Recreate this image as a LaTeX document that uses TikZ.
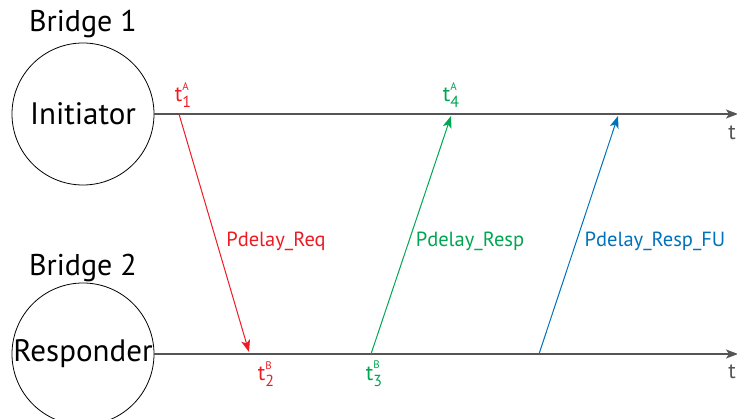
\documentclass[tikz,border=0pt]{standalone}
\usepackage{fontspec}
\setmainfont{PT Sans}
\usepackage{xcolor}
\usetikzlibrary{arrows.meta,positioning}

\definecolor{reqred}{RGB}{237,28,36}
\definecolor{respgreen}{RGB}{0,166,81}
\definecolor{fublue}{RGB}{0,114,188}
\definecolor{axisgray}{RGB}{85,85,85}

\newcommand{\tstamp}[2]{t\makebox[0pt][l]{\raisebox{1.05ex}{\fontsize{11}{11}\selectfont #2}}\raisebox{-0.55ex}{\fontsize{16}{16}\selectfont #1}}

\begin{document}
\begin{tikzpicture}[x=1pt,y=-1pt,
  bridge/.style={draw,circle,line width=.8pt,minimum size=142pt,inner sep=0pt,
    font=\fontsize{31}{31}\selectfont},
  title/.style={font=\fontsize{30}{30}\selectfont},
  axis/.style={-{Stealth[length=12pt,width=9pt,inset=3pt]},line width=1.2pt,color=axisgray},
  msg/.style={-{Stealth[length=12pt,width=9pt,inset=3pt]},line width=1pt},
  stamp/.style={font=\fontsize{22}{22}\selectfont},
  tag/.style={font=\fontsize{20.5}{20.5}\selectfont}]
\useasboundingbox (0,0) rectangle (737,419);
\node[bridge] (initiator) at (83,114) {Initiator};
\node[bridge] (responder) at (83,354) {Responder};
\node[title] (bridgeA) at (83,24) {Bridge 1};
\node[title] (bridgeB) at (83,268) {Bridge 2};
% time lines
\coordinate (endA) at (738,114);
\coordinate (endB) at (738,354);
\draw[axis] (initiator.east)--(endA);
\draw[axis] (responder.east)--(endB);
\node[stamp,anchor=east,color=axisgray,inner xsep=1pt] (tA) at (737,133) {t};
\node[stamp,anchor=east,color=axisgray,inner xsep=1pt] (tB) at (737,372) {t};
% events on the time lines
\coordinate (t1) at (179,114);
\coordinate (t2) at (249,352);
\coordinate (t3) at (371,354);
\coordinate (t4) at (451,116);
\coordinate (fu) at (539,354);
\coordinate (fuend) at (618,116);
\draw[msg,reqred] (t1)--(t2);
\draw[msg,respgreen] (t3)--(t4);
\draw[msg,fublue] (fu)--(fuend);
\node[stamp,reqred] (t1lbl) at (183,95) {\tstamp{1}{A}};
\node[stamp,reqred] (t2lbl) at (266,374) {\tstamp{2}{B}};
\node[stamp,respgreen] (t3lbl) at (374,374) {\tstamp{3}{B}};
\node[stamp,respgreen] (t4lbl) at (451,95) {\tstamp{4}{A}};
\node[tag,reqred] (req) at (276,241) {Pdelay\_Req};
\node[tag,respgreen] (resp) at (470,241) {Pdelay\_Resp};
\node[tag,fublue] (respfu) at (655,241) {Pdelay\_Resp\_FU};
\end{tikzpicture}
\end{document}
